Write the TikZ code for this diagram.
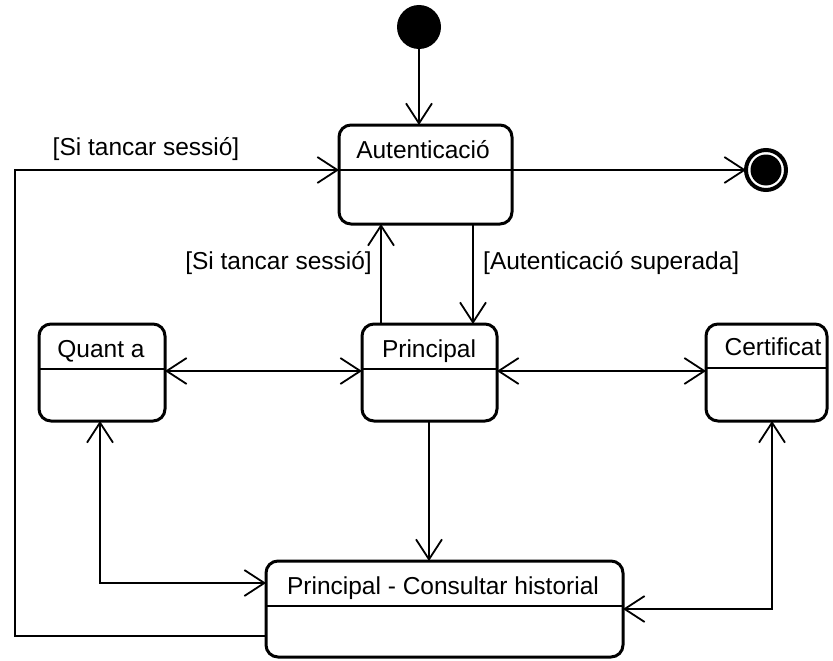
\documentclass[tikz,border=0pt]{standalone}
\usepackage{fontspec}
\setmainfont{Liberation Sans}
\usetikzlibrary{arrows.meta}
\begin{document}
\begin{tikzpicture}[x=1pt,y=-1pt,
  >={Straight Barb[length=20pt,width=26pt]},
  stbox/.style={draw, line width=3pt, rounded corners=12pt, inner sep=0pt, outer sep=0pt},
  conn/.style={line width=1.8pt},
  divider/.style={line width=1.6pt},
  lbl/.style={font=\fontsize{24.5}{28}\selectfont, inner sep=0pt, anchor=base},
]
\useasboundingbox (0,0) rectangle (833,661);

% states
\node[stbox, minimum width=173pt, minimum height=99pt] (auth) at (425.5,174.5) {};
\node[stbox, minimum width=135pt, minimum height=97pt] (main) at (429.5,372.5) {};
\node[stbox, minimum width=126pt, minimum height=97pt] (about) at (102,372.5) {};
\node[stbox, minimum width=121pt, minimum height=97pt] (cert) at (766.5,372.5) {};
\node[stbox, minimum width=357pt, minimum height=96pt] (hist) at (444.5,609) {};

% compartment lines
\draw[divider] ([yshift=4.5pt]auth.west) -- ([yshift=4.5pt]auth.east);
\draw[divider] ([yshift=3.5pt]main.west) -- ([yshift=3.5pt]main.east);
\draw[divider] ([yshift=3.5pt]about.west) -- ([yshift=3.5pt]about.east);
\draw[divider] ([yshift=4.5pt]cert.west) -- ([yshift=4.5pt]cert.east);
\draw[divider] ([yshift=3pt]hist.west) -- ([yshift=3pt]hist.east);

% state names
\node[lbl] (authT) at (423,158) {Autenticació};
\node[lbl] (mainT) at (429,357) {Principal};
\node[lbl] (aboutT) at (101,357) {Quant a};
\node[lbl] (certT) at (773,355) {Certificat};
\node[lbl] (histT) at (443,594) {Principal - Consultar historial};

% pseudo-states
\node[circle, fill=black, minimum size=44pt, inner sep=0pt, outer sep=0pt] (init) at (419,27) {};
\node[circle, draw, line width=4pt, minimum size=40pt, inner sep=0pt, outer sep=0pt] (fin) at (766,170) {};
\fill (fin.center) circle (15.5pt);

% transitions
\draw[conn,->] (init) -- (init |- auth.north);
\draw[conn,->] (auth.east |- fin) -- (fin);

\coordinate (lb) at (15,636);
\coordinate (lt) at (15,170);
\draw[conn,->] (hist.west |- lb) -- (lb) -- (lt) -- (auth.west |- lt);
\node[lbl] (lblTop) at (146,155) {[Si tancar sessió]};

\draw[conn,->] ([xshift=-48.5pt]main.north) -- ([xshift=-48.5pt]main.north |- auth.south);
\draw[conn,->] ([xshift=43.5pt]main.north |- auth.south) -- ([xshift=43.5pt]main.north);
\node[lbl, anchor=base east] (lblUp) at (372,269) {[Si tancar sessió]};
\node[lbl, anchor=base west] (lblDown) at (483,269) {[Autenticació superada]};

\draw[conn,<->] ([yshift=1.5pt]about.east) -- ([yshift=1.5pt]main.west);
\draw[conn,<->] ([yshift=1.5pt]main.east) -- ([yshift=1.5pt]cert.west);
\draw[conn,->] ([xshift=-0.5pt]main.south) -- ([xshift=-0.5pt]main.south |- hist.north);
\draw[conn,<->] ([xshift=-2pt]about.south) |- ([yshift=26pt]hist.west);
\draw[conn,<->] ([xshift=5.5pt]cert.south) |- (hist.east);
\end{tikzpicture}
\end{document}
